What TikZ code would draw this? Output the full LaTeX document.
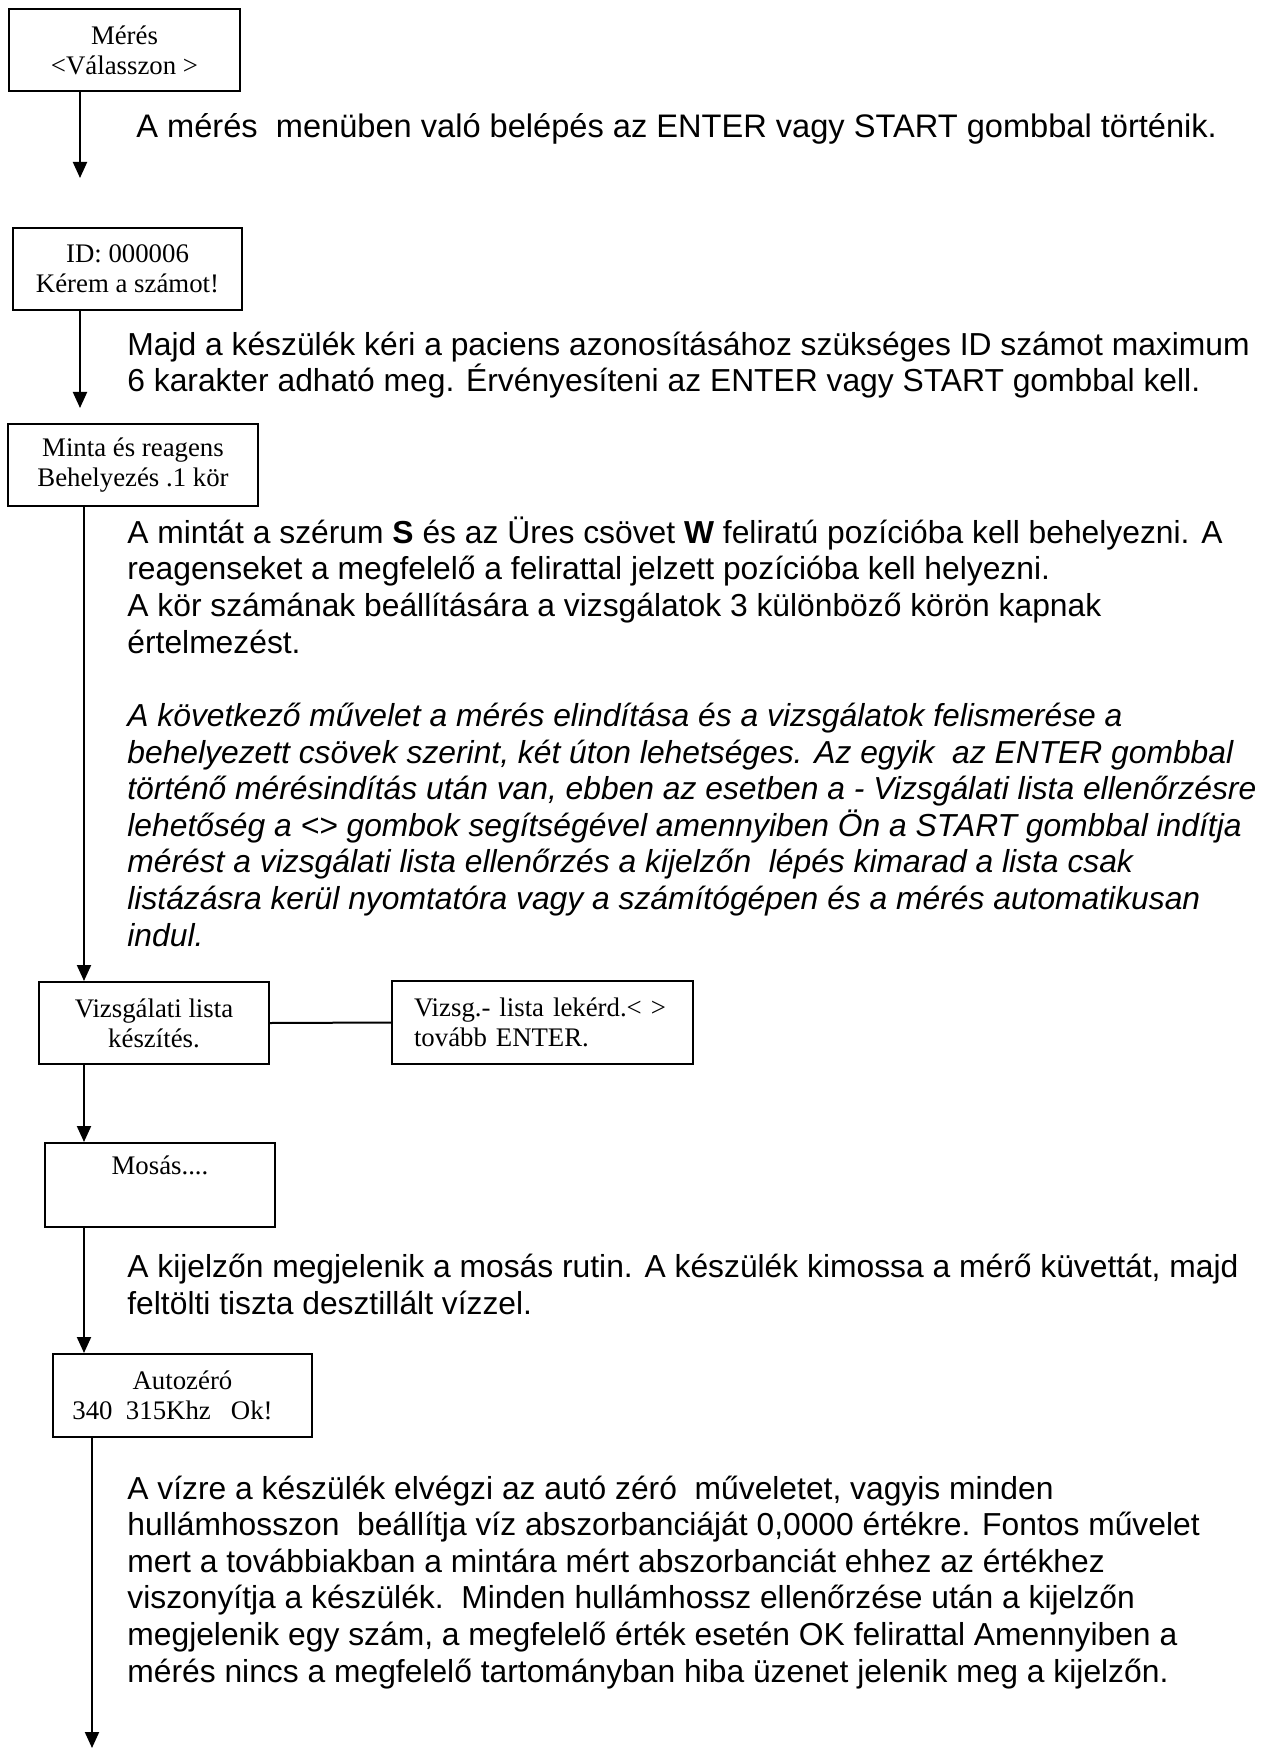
\documentclass[tikz,border=0pt]{standalone}
\usepackage{fontspec}
\setmainfont{Liberation Serif}
\newfontfamily\arialfont{Liberation Sans}
\usetikzlibrary{arrows.meta}

\tikzset{
  kijelzo/.style={draw, line width=1pt, inner sep=0pt, anchor=north west,
    align=center, font=\fontsize{13.4}{15}\selectfont},
  leiras/.style={anchor=base west, align=left, inner sep=0pt,
    font=\arialfont\fontsize{15.9}{18.3}\selectfont},
  nyil/.style={-{Triangle[length=8pt,width=7pt]}, line width=1pt}
}

\begin{document}
\begin{tikzpicture}[x=0.5pt,y=-0.5pt]
  \useasboundingbox (0,0) rectangle (1274,1748);

  \coordinate (v1) at (80,178);
  \coordinate (oszlop) at (84,0);
  \coordinate (v2) at (92,1748);

  \node[kijelzo, minimum width=115.5pt, minimum height=41pt] (meres) at (8,8)
    {Mérés\\<Válasszon >};
  \node[kijelzo, minimum width=114.5pt, minimum height=41pt] (azon) at (12,227)
    {ID: 000006\\Kérem a számot!};
  \node[kijelzo, minimum width=125pt, minimum height=41pt] (minta) at (7,423)
    {Minta és reagens\\Behelyezés .1 kör};
  \node[kijelzo, minimum width=115pt, minimum height=41pt] (lista) at (38,981)
    {Vizsgálati lista\\készítés.};
  \node[kijelzo, align=left, inner xsep=11pt, text width=128.5pt,
    minimum height=41.5pt] (lekerd) at (391,980)
    {Vizsg.- lista lekérd.< >\\tovább ENTER.};
  \node[kijelzo, minimum width=115pt, minimum height=42pt] (mosas) at (44,1142)
    {Mosás....\\\strut};
  \node[kijelzo, minimum width=129.5pt, minimum height=41.5pt] (autozero) at (52,1353)
    {Autozéró\\340\ \ 315Khz\ \ \ Ok!\kern10pt};

  %%%%%%%%%%%%%%%%%%%%%%%%%%%%%%%%%%%%

  % the base of a text is the baseline of its last line
  \node[leiras, font=\arialfont\fontsize{16.3}{18.3}\selectfont] (t1) at (136,138)
    {A mérés\ \ menüben való belépés az ENTER vagy START gombbal történik.};
  \node[leiras] (t2) at (127,392)
    {Majd a készülék kéri a paciens azonosításához szükséges ID számot maximum\\
     6 karakter adható meg. Érvényesíteni az ENTER vagy START gombbal kell.};
  \node[leiras] (t3) at (127,653)
    {A mintát a szérum \textbf{S} és az Üres csövet \textbf{W} feliratú pozícióba kell behelyezni. A\\
     reagenseket a megfelelő a felirattal jelzett pozícióba kell helyezni.\\
     A kör számának beállítására a vizsgálatok 3 különböző körön kapnak\\
     értelmezést.};
  \node[leiras, font=\arialfont\itshape\fontsize{15.9}{18.3}\selectfont] (t4) at (127,946)
    {A következő művelet a mérés elindítása és a vizsgálatok felismerése a\\
     behelyezett csövek szerint, két úton lehetséges. Az egyik\ \ az ENTER gombbal\\
     történő mérésindítás után van, ebben az esetben a - Vizsgálati lista ellenőrzésre\\
     lehetőség a <> gombok segítségével amennyiben Ön a START gombbal indítja\\
     mérést a vizsgálati lista ellenőrzés a kijelzőn\ \ lépés kimarad a lista csak\\
     listázásra kerül nyomtatóra vagy a számítógépen és a mérés automatikusan\\
     indul.};
  \node[leiras] (t5) at (127,1314)
    {A kijelzőn megjelenik a mosás rutin. A készülék kimossa a mérő küvettát, majd\\
     feltölti tiszta desztillált vízzel.};
  \node[leiras] (t6) at (127,1682)
    {A vízre a készülék elvégzi az autó zéró\ \ műveletet, vagyis minden\\
     hullámhosszon\ \ beállítja víz abszorbanciáját 0,0000 értékre. Fontos művelet\\
     mert a továbbiakban a mintára mért abszorbanciát ehhez az értékhez\\
     viszonyítja a készülék.\ \ Minden hullámhossz ellenőrzése után a kijelzőn\\
     megjelenik egy szám, a megfelelő érték esetén OK felirattal Amennyiben a\\
     mérés nincs a megfelelő tartományban hiba üzenet jelenik meg a kijelzőn.};

  %%%%%%%%%%%%%%%%%%%%%%%%%%%%%%%%%%%%

  \draw[nyil] (meres.south -| v1) -- (v1);
  \draw[nyil, shorten >=7.5pt] (azon.south -| v1) -- (minta.north -| v1);
  \draw[nyil] (minta.south -| oszlop) -- (lista.north -| oszlop);
  \draw[line width=1pt] (lista.east) -- (lekerd.west);
  \draw[nyil] (lista.south -| oszlop) -- (mosas.north -| oszlop);
  \draw[nyil] (mosas.south -| oszlop) -- (autozero.north -| oszlop);
  \draw[nyil] (autozero.south -| v2) -- (v2);

\end{tikzpicture}
\end{document}
